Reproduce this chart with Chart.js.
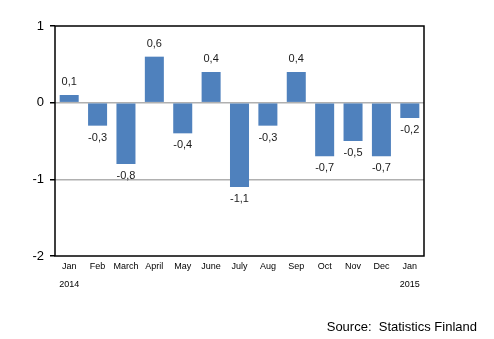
<!DOCTYPE html>
<html>
<head>
<meta charset="utf-8">
<script src="https://cdn.jsdelivr.net/npm/chart.js@4/dist/chart.umd.min.js"></script>
<style>
  html, body { margin: 0; padding: 0; background: #fff; }
  #wrap { position: relative; width: 494px; height: 339px; }
</style>
</head>
<body>
<div id="wrap"><canvas id="c" width="494" height="339"></canvas></div>
<script>
// Monthly change, %
const months = ['Jan', 'Feb', 'March', 'April', 'May', 'June', 'July', 'Aug', 'Sep', 'Oct', 'Nov', 'Dec', 'Jan'];
const years  = ['2014', '', '', '', '', '', '', '', '', '', '', '', '2015'];
const changes = [0.1, -0.3, -0.8, 0.6, -0.4, 0.4, -1.1, -0.3, 0.4, -0.7, -0.5, -0.7, -0.2];
const yTicks = [1, 0, -1, -2];
const sourceText = 'Source:  Statistics Finland';

const FONT = '"Liberation Sans", Arial, sans-serif';

// value labels at bar ends, plot frame and source note
const extras = {
  id: 'extras',
  afterDatasetsDraw(chart) {
    const { ctx, chartArea: a } = chart;
    const xs = chart.scales.x, ys = chart.scales.y;
    ctx.save();
    ctx.font = '11px ' + FONT;
    ctx.fillStyle = '#1a1a1a';
    ctx.textAlign = 'center';
    ctx.textBaseline = 'middle';
    changes.forEach((v, i) => {
      const x = xs.getPixelForValue(i);
      const y = ys.getPixelForValue(v) + (v >= 0 ? -13 : 12);
      ctx.fillText(v.toFixed(1).replace('.', ','), x, y);
    });
    ctx.strokeStyle = '#000';
    ctx.lineWidth = 1.5;
    ctx.strokeRect(a.left, a.top, a.right - a.left, a.bottom - a.top);
    ctx.font = '13px ' + FONT;
    ctx.textAlign = 'right';
    ctx.textBaseline = 'alphabetic';
    ctx.fillStyle = '#000';
    ctx.fillText(sourceText, 477, 331);
    ctx.restore();
  }
};

new Chart(document.getElementById('c'), {
  type: 'bar',
  data: {
    labels: months.map((m, i) => years[i] ? [m, years[i]] : m),
    datasets: [{
      data: changes,
      backgroundColor: '#4f81bd',
      barPercentage: 0.67,
      categoryPercentage: 1
    }]
  },
  options: {
    responsive: false,
    animation: false,
    devicePixelRatio: 1,
    layout: { padding: { left: 0, top: 26, right: 70, bottom: 0 } },
    plugins: { legend: { display: false }, tooltip: { enabled: false } },
    scales: {
      x: {
        grid: { display: false, drawTicks: false },
        border: { display: false },
        ticks: {
          font: { family: FONT, size: 9, lineHeight: 2 },
          color: '#000',
          padding: 2,
          maxRotation: 0,
          autoSkip: false
        },
        afterFit(s) { s.height = 83; }
      },
      y: {
        min: -2, max: 1,
        afterBuildTicks(s) { s.ticks = yTicks.map(v => ({ value: v })); },
        grid: {
          color: c => (c.tick && (c.tick.value === 0 || c.tick.value === -1)) ? '#b0b0b0' : 'rgba(0,0,0,0)',
          tickColor: '#000',
          tickLength: 5,
          lineWidth: 1.5
        },
        border: { display: false },
        ticks: {
          font: { family: FONT, size: 13 },
          color: '#000',
          padding: 6
        },
        afterFit(s) { s.width = 55; }
      }
    }
  },
  plugins: [extras]
});
</script>
</body>
</html>
